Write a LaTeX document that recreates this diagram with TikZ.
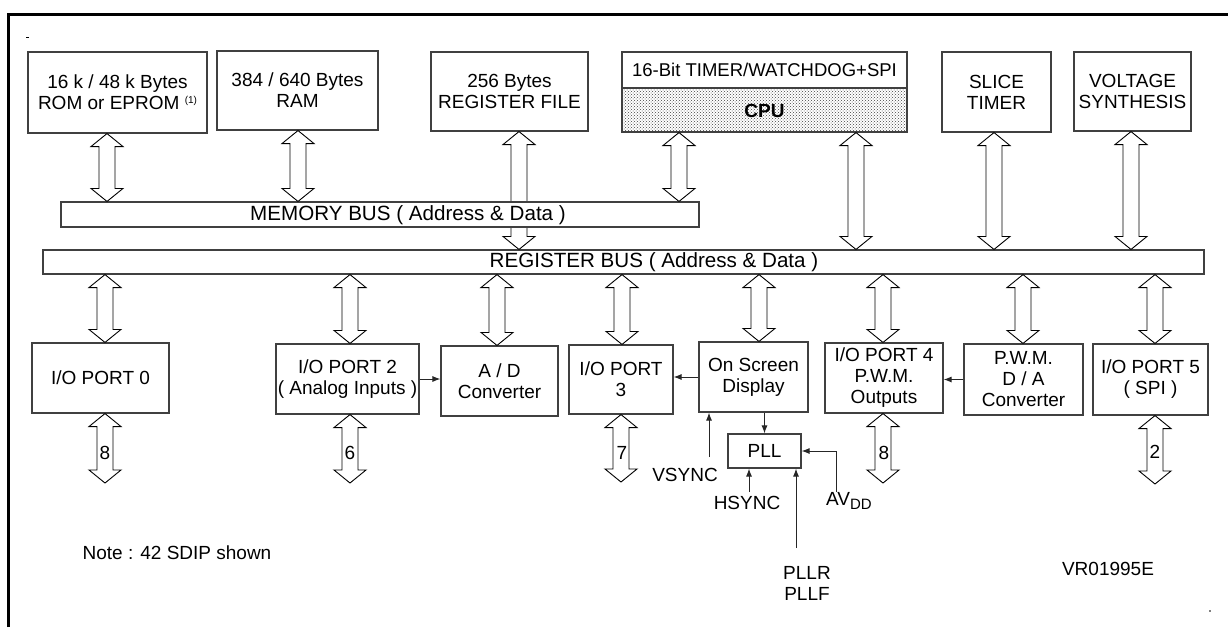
\documentclass[tikz,border=0pt]{standalone}
\usepackage{fontspec}
\setmainfont{Liberation Sans}
\usetikzlibrary{arrows.meta,calc,patterns}
\newcommand\bigdarrow[3]{%
  \draw[fatarr] let \p3=(#1,0), \p1=(#2), \p2=(#3) in
    (\x3,\y1) -- (\x3+16pt,\y1-13pt) -- (\x3+8pt,\y1-13pt) -- (\x3+8pt,\y2+13pt)
    -- (\x3+16pt,\y2+13pt) -- (\x3,\y2) -- (\x3-16pt,\y2+13pt) -- (\x3-8pt,\y2+13pt)
    -- (\x3-8pt,\y1-13pt) -- (\x3-16pt,\y1-13pt) -- cycle;}
\begin{document}
\begin{tikzpicture}[x=1pt,y=-1pt,
  every node/.style={font=\fontsize{19pt}{21pt}\selectfont, inner sep=0pt, align=center},
  box/.style={draw=black!75, line width=1.1pt, fill=white},
  bustxt/.style={font=\fontsize{20.6pt}{22pt}\selectfont},
  fatarr/.style={draw=black, line width=0.9pt, fill=white, line join=miter},
  sarr/.style={draw=black!85, line width=1pt, -{Latex[length=8pt,width=6pt]}}]
\useasboundingbox (0,0) rectangle (1228,627);
\draw[line width=3pt] (8.7,627) -- (8.7,14.5) -- (1228,14.5);
\draw[line width=0.8pt] (26,37) -- (29,37);
\fill (1210,611) circle (0.8pt);

% top row
\node[box, minimum width=179pt, minimum height=81pt] (rom) at (117.5,92.5)
  {16 k / 48 k Bytes\\ROM or EPROM \raisebox{6pt}{\fontsize{10pt}{10pt}\selectfont(1)}};
\node[box, minimum width=161pt, minimum height=79pt] (ram) at (297.5,90.5) {384 / 640 Bytes\\RAM};
\node[box, minimum width=157pt, minimum height=79pt] (regfile) at (509.5,91.5) {256 Bytes\\REGISTER FILE};
\node[box, minimum width=285pt, minimum height=36pt] (timer) at (764.5,70)
  {\fontsize{18.5pt}{21pt}\selectfont 16-Bit TIMER/WATCHDOG+SPI};
\node[box, pattern=crosshatch dots, pattern color=black!75, minimum width=285pt, minimum height=44pt] (cpu) at (764.5,110) {};
\node (cputxt) at (764.5,111) {\bfseries CPU};
\node[box, minimum width=109pt, minimum height=80pt] (slice) at (996.5,92) {SLICE\\TIMER};
\node[box, minimum width=117pt, minimum height=79pt] (volt) at (1132.5,91.5) {VOLTAGE\\SYNTHESIS};

% register bus, then register-file arrow (hidden behind memory bus), then memory bus
\node[box, minimum width=1161pt, minimum height=24pt] (regbus) at (623.5,262) {};
\node[bustxt] (regtxt) at (654,262) {REGISTER BUS ( Address \& Data )};
\bigdarrow{519}{regfile.south}{regbus.north}
\node[box, minimum width=638pt, minimum height=25pt] (membus) at (380,214.5) {};
\node[bustxt] (memtxt) at (408,215) {MEMORY BUS ( Address \& Data )};

% bottom row
\node[box, minimum width=137pt, minimum height=70pt] (p0) at (100.5,378) {I/O PORT 0};
\node[box, minimum width=143pt, minimum height=70pt] (p2) at (347.5,379) {I/O PORT 2\\( Analog Inputs )};
\node[box, minimum width=117pt, minimum height=70pt] (ad) at (499.5,381) {A / D\\Converter};
\node[box, minimum width=104pt, minimum height=69pt] (p3) at (621,379.5) {I/O PORT\\3};
\node[box, minimum width=109pt, minimum height=70pt] (osd) at (753.5,377) {On Screen\\Display};
\node[box, minimum width=118pt, minimum height=70pt] (p4) at (884,378) {I/O PORT 4\\P.W.M.\\Outputs};
\node[box, minimum width=119pt, minimum height=71pt] (pwm) at (1023.5,379.5) {P.W.M.\\D / A\\Converter};
\node[box, minimum width=115pt, minimum height=71pt] (p5) at (1150.5,379.5) {I/O PORT 5\\( SPI )};
\node[box, minimum width=73pt, minimum height=34pt] (pll) at (764.5,451) {PLL};

% fat arrows top
\bigdarrow{107}{rom.south}{membus.north}
\bigdarrow{298}{ram.south}{membus.north}
\bigdarrow{679}{cpu.south}{membus.north}
\bigdarrow{856}{cpu.south}{regbus.north}
\bigdarrow{994}{slice.south}{regbus.north}
\bigdarrow{1131}{volt.south}{regbus.north}
% fat arrows bus to blocks
\bigdarrow{105}{regbus.south}{p0.north}
\bigdarrow{350}{regbus.south}{p2.north}
\bigdarrow{497}{regbus.south}{ad.north}
\bigdarrow{622}{regbus.south}{p3.north}
\bigdarrow{759}{regbus.south}{osd.north}
\bigdarrow{883}{regbus.south}{p4.north}
\bigdarrow{1023}{regbus.south}{pwm.north}
\bigdarrow{1155}{regbus.south}{p5.north}
% port pins
\coordinate (e0) at (105,483);
\coordinate (e2) at (350,483);
\coordinate (e3) at (621,482);
\coordinate (e4) at (883,483);
\coordinate (e5) at (1155,484);
\bigdarrow{105}{p0.south}{e0}
\bigdarrow{350}{p2.south}{e2}
\bigdarrow{621}{p3.south}{e3}
\bigdarrow{883}{p4.south}{e4}
\bigdarrow{1155}{p5.south}{e5}
\node (n0) at (105,453) {8};
\node (n2) at (350,453) {6};
\node (n3) at (622,453) {7};
\node (n4) at (884,453) {8};
\node (n5) at (1155,452) {2};

% small arrows
\draw[sarr] (p2.east) -- (p2.east -| ad.west);
\draw[sarr] (osd.west) -- (osd.west -| p3.east);
\draw[sarr] (pwm.west) -- (pwm.west -| p4.east);
\draw[sarr] (pll.north |- osd.south) -- (pll.north);

\coordinate (vs) at (709,457);
\node (vsync) at (685,475) {VSYNC};
\draw[sarr] (vs) -- (vs |- osd.south);

\coordinate (hs) at (749,492);
\node (hsync) at (747,503) {HSYNC};
\draw[sarr] (hs) -- (hs |- pll.south);

\coordinate (pr) at (796,548);
\node (pllr) at (807,583) {PLLR\\PLLF};
\draw[sarr] (pr) -- (pr |- pll.south);

\coordinate (av) at (836,492);
\node[anchor=west] (avdd) at (826,501) {AV\textsubscript{\fontsize{15pt}{15pt}\selectfont DD}};
\draw[sarr] (av) |- (pll.east);

\node (note) at (177,553) {Note : 42 SDIP shown};
\node (ref) at (1108,569) {VR01995E};
\end{tikzpicture}
\end{document}
